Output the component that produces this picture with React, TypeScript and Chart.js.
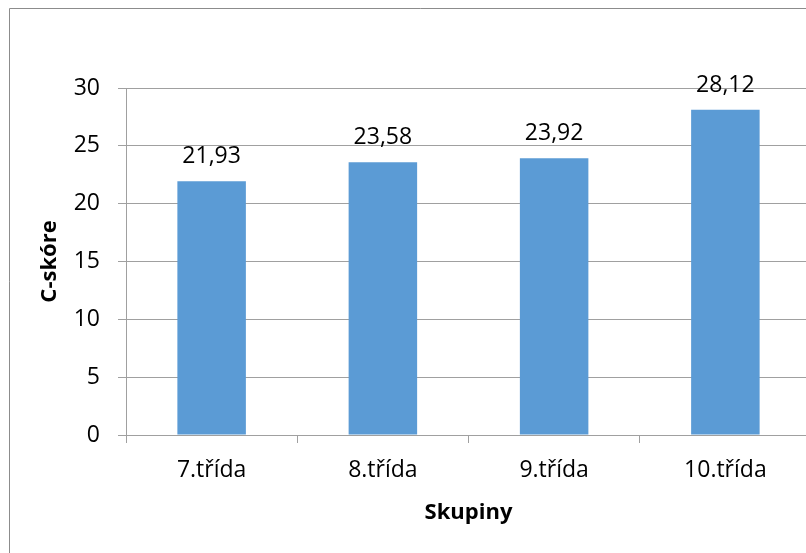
import React, { useEffect, useRef } from "react";
import { Chart, registerables } from "chart.js";

Chart.register(...registerables);

const categories = ["7.třída", "8.třída", "9.třída", "10.třída"];
const values = [21.93, 23.58, 23.92, 28.12];
const yTitle = "C-skóre";
const xTitle = "Skupiny";

const FONT = "'Open Sans', 'Noto Sans', sans-serif";
const CANVAS_W = 830;
const CANVAS_H = 553;

const framePlugin = {
  id: "frame",
  beforeDraw(chart: any) {
    const ctx = chart.ctx;
    ctx.save();
    ctx.fillStyle = "#ffffff";
    ctx.fillRect(0, 0, chart.width, chart.height);
    ctx.strokeStyle = "#8c8c8c";
    ctx.lineWidth = 1;
    ctx.beginPath();
    ctx.moveTo(9.5, chart.height + 5);
    ctx.lineTo(9.5, 8.5);
    ctx.lineTo(chart.width + 5, 8.5);
    ctx.stroke();
    ctx.restore();
  },
};

const valueLabelPlugin = {
  id: "valueLabels",
  afterDatasetsDraw(chart: any) {
    const ctx = chart.ctx;
    const meta = chart.getDatasetMeta(0);
    ctx.save();
    ctx.font = `23px ${FONT}`;
    ctx.fillStyle = "#000000";
    ctx.textAlign = "center";
    ctx.textBaseline = "alphabetic";
    meta.data.forEach((bar: any, i: number) => {
      const v = chart.data.datasets[0].data[i] as number;
      ctx.fillText(v.toFixed(2).replace(".", ","), bar.x, bar.y - 18);
    });
    ctx.restore();
  },
};

export default function App() {
  const ref = useRef<HTMLCanvasElement>(null);
  useEffect(() => {
    if (!ref.current) return;
    const chart = new Chart(ref.current, {
      type: "bar",
      data: {
        labels: categories,
        datasets: [
          {
            data: values,
            backgroundColor: "#5B9BD5",
            borderWidth: 0,
            categoryPercentage: 1,
            barPercentage: 0.4,
          },
        ],
      },
      options: {
        responsive: false,
        animation: false,
        devicePixelRatio: 1,
        layout: { padding: { top: 88, right: CANVAS_W - 811, left: 0, bottom: 0 } },
        plugins: { legend: { display: false }, tooltip: { enabled: false } },
        scales: {
          x: {
            offset: true,
            afterFit: (s: any) => {
              s.height = 118;
            },
            grid: {
              offset: true,
              drawOnChartArea: false,
              drawTicks: true,
              tickLength: 8,
              color: "#a0a0a0",
            },
            border: { display: true, color: "#a0a0a0" },
            ticks: {
              color: "#000000",
              padding: 14,
              font: { family: FONT, size: 23 },
            },
            title: {
              display: true,
              text: xTitle,
              color: "#000000",
              padding: { top: 0, bottom: 27 },
              font: { family: FONT, size: 22, weight: "bold" },
            },
          },
          y: {
            min: 0,
            max: 30,
            afterFit: (s: any) => {
              s.width = 126;
            },
            grid: {
              drawTicks: true,
              tickLength: 8,
              color: "#a0a0a0",
            },
            border: { display: true, color: "#a0a0a0" },
            ticks: {
              stepSize: 5,
              color: "#000000",
              padding: 18,
              font: { family: FONT, size: 23 },
            },
            title: {
              display: true,
              text: yTitle,
              color: "#000000",
              padding: { top: 37, bottom: 0 },
              font: { family: FONT, size: 22, weight: "bold" },
            },
          },
        },
      },
      plugins: [framePlugin, valueLabelPlugin],
    });
    return () => chart.destroy();
  }, []);
  return (
    <div
      style={{
        position: "absolute",
        left: 0,
        top: 0,
        width: 806,
        height: 553,
        overflow: "hidden",
        background: "#fff",
      }}
    >
      <canvas ref={ref} width={CANVAS_W} height={CANVAS_H} style={{ display: "block" }} />
    </div>
  );
}
